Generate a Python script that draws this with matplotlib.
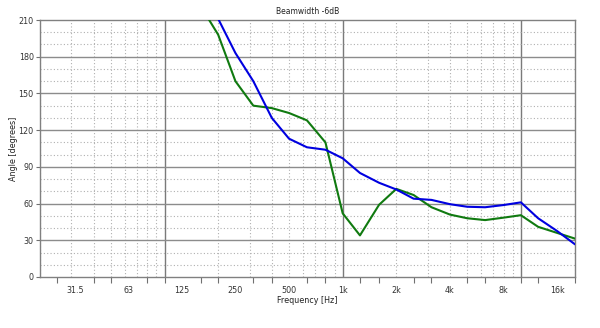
import matplotlib
matplotlib.use("Agg")
import matplotlib.pyplot as plt
from matplotlib.ticker import FixedLocator, NullFormatter

plt.rcParams["font.family"] = ["DejaVu Sans"]

# ---------------- data (1/3-octave points) ----------------
freqs = [160, 200, 250, 315, 400, 500, 630, 800, 1000, 1250, 1600, 2000,
         2500, 3150, 4000, 5000, 6300, 8000, 10000, 12500, 16000, 20000]
beam_blue = [236, 211, 183, 160, 130, 113, 106, 104, 97, 85, 77, 71.5,
             64, 63, 59.5, 57.4, 57, 58.8, 61, 48, 37.5, 27]
beam_green = [221, 198, 160, 140, 138, 134, 128, 110, 52, 34, 59, 72,
              67, 57, 51, 48, 46.5, 48.5, 50.5, 41, 36, 31.5]

x_labels = ["31.5", "63", "125", "250", "500", "1k", "2k", "4k", "8k", "16k"]
x_label_pos = [31.5, 63, 125, 250, 500, 1000, 2000, 4000, 8000, 16000]
third_oct = [25, 31.5, 40, 50, 63, 80, 100, 125, 160, 200, 250, 315, 400, 500,
             630, 800, 1000, 1250, 1600, 2000, 2500, 3150, 4000, 5000, 6300,
             8000, 10000, 12500, 16000, 20000]
y_ticks = [0, 30, 60, 90, 120, 150, 180, 210]

# ---------------- figure ----------------
W, H = 600, 328
fig = plt.figure(figsize=(W / 100, H / 100), dpi=100)
left, right, top, bottom = 40, 574.5, 20, 277
ax = fig.add_axes([left / W, 1 - bottom / H, (right - left) / W, (bottom - top) / H])

ax.set_xscale("log")
ax.set_xlim(20, 20000)
ax.set_ylim(0, 210)

# grid: dotted minor, solid major
for dec in (10, 100, 1000, 10000):
    for m in range(2, 10):
        f = dec * m
        if 20 <= f <= 20000 and f not in (100, 1000, 10000):
            ax.axvline(f, color="#b0b0b0", lw=0.8, ls=(0, (1, 2)), zorder=1)
for f in (100, 1000, 10000):
    ax.axvline(f, color="#7a7a7a", lw=1.0, zorder=1)
for v in range(10, 210, 10):
    if v % 30:
        ax.axhline(v, color="#b0b0b0", lw=0.8, ls=(0, (1, 2)), zorder=1)
    else:
        ax.axhline(v, color="#8c8c8c", lw=1.0, zorder=1)

ax.plot(freqs, beam_green, color="#107a10", lw=1.5, zorder=3)
ax.plot(freqs, beam_blue, color="#0000e0", lw=1.5, zorder=4)

ax.xaxis.set_major_locator(FixedLocator(x_label_pos))
ax.set_xticklabels(x_labels)
ax.xaxis.set_minor_locator(FixedLocator(third_oct))
ax.xaxis.set_minor_formatter(NullFormatter())
ax.set_yticks(y_ticks)

ax.tick_params(axis="x", which="major", length=0, pad=6.5, labelsize=5.8, colors="#333333")
ax.tick_params(axis="x", which="minor", direction="out", length=4, width=0.8, color="#707070")
ax.tick_params(axis="y", direction="out", length=3, width=0.8, color="#707070",
               labelsize=5.8, labelcolor="#333333", pad=1.5)

for s in ax.spines.values():
    s.set_color("#808080")
    s.set_linewidth(1.0)

ax.set_title("Beamwidth -6dB", fontsize=5.5, color="#222222", pad=4)
ax.set_xlabel("Frequency [Hz]", fontsize=5.8, color="#222222", labelpad=1)
ax.set_ylabel("Angle [degrees]", fontsize=5.8, color="#222222", labelpad=0.5)

fig.savefig("out.png", dpi=100)
